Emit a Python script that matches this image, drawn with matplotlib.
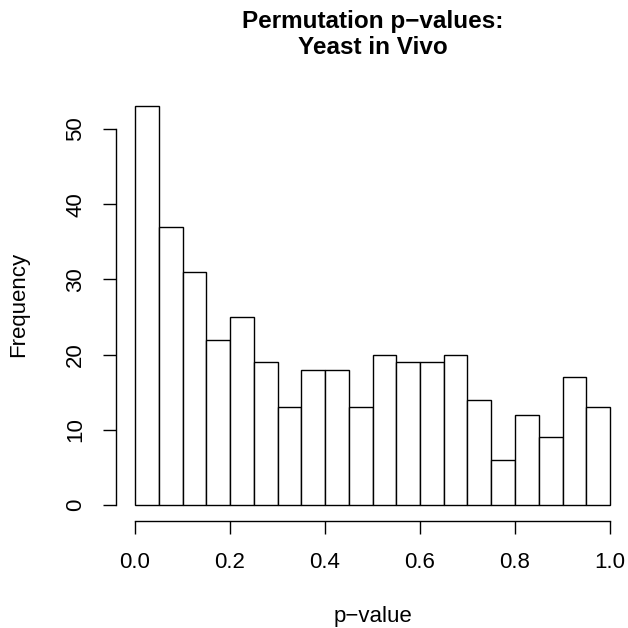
import matplotlib
matplotlib.use("Agg")
import matplotlib.pyplot as plt
import numpy as np

plt.rcParams['font.family'] = ['Liberation Sans', 'DejaVu Sans']

bin_edges = [round(0.05 * i, 2) for i in range(21)]
counts = [53, 37, 31, 22, 25, 19, 13, 18, 18, 13, 20, 19, 19, 20, 14, 6, 12, 9, 17, 13]
xticks = [0.0, 0.2, 0.4, 0.6, 0.8, 1.0]
xticklabels = ["0.0", "0.2", "0.4", "0.6", "0.8", "1.0"]
yticks = [0, 10, 20, 30, 40, 50]

W = H = 628
fig = plt.figure(figsize=(6.28, 6.28), dpi=100)
# plot region in pixels: x 116..629, y 90.5..521
L, R, T, B = 116, 629, 90.5, 521
ax = fig.add_axes([L / W, 1 - B / H, (R - L) / W, (B - T) / H])

lefts = np.array(bin_edges[:-1])
widths = np.diff(bin_edges)
ax.bar(lefts, counts, width=widths, align='edge', facecolor='white',
       edgecolor='black', linewidth=1.0)

ax.set_xlim(-0.04, 1.04)
ax.set_ylim(-0.04 * 53, 53 * 1.04)

for s in ['top', 'right']:
    ax.spines[s].set_visible(False)
ax.spines['bottom'].set_bounds(0, 1)
ax.spines['left'].set_bounds(0, 50)
ax.spines['bottom'].set_linewidth(1.0)
ax.spines['left'].set_linewidth(1.0)

ax.set_xticks(xticks)
ax.set_xticklabels(xticklabels)
ax.set_yticks(yticks)
ax.set_yticklabels([str(v) for v in yticks], rotation=90, va='center')
ax.tick_params(axis='both', length=9.4, width=1.0, labelsize=16)
ax.tick_params(axis='x', pad=13)
ax.tick_params(axis='y', pad=12)

cx = ((L + R) / 2) / W
fig.text(cx, 1 - 622 / H, "p\u2212value", fontsize=16, ha='center', va='baseline')
fig.text(19 / W, 1 - 304 / H, "Frequency", fontsize=16,
         ha='center', va='center', rotation=90)
fig.text(cx, 1 - 28 / H, "Permutation p\u2212values:", fontsize=17.5,
         fontweight='bold', ha='center', va='baseline')
fig.text(cx, 1 - 54 / H, "Yeast in Vivo", fontsize=17.5,
         fontweight='bold', ha='center', va='baseline')

fig.savefig("out.png", dpi=100)
